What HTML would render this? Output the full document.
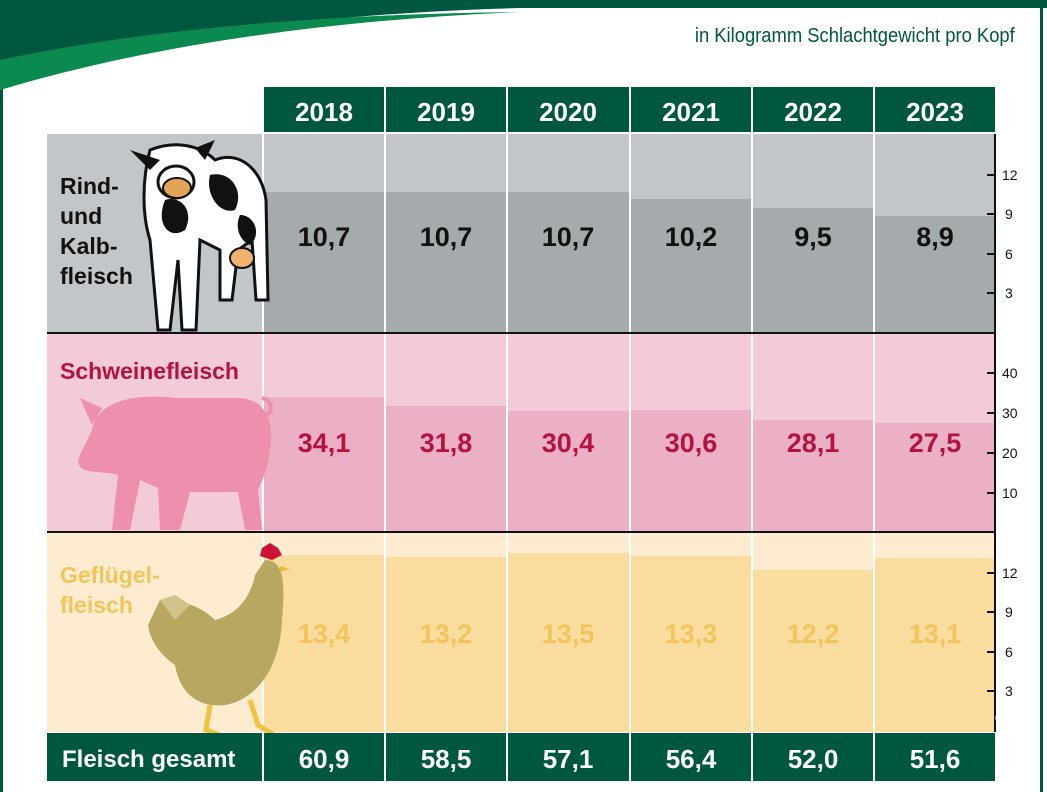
<!DOCTYPE html>
<html><head><meta charset="utf-8"><style>
html,body{margin:0;padding:0;background:#fff;}
svg{display:block;font-family:"Liberation Sans",sans-serif;}
</style></head><body>
<svg width="1047" height="792" viewBox="0 0 1047 792" xmlns="http://www.w3.org/2000/svg">
<rect width="1047" height="792" fill="#fff"/>
<!-- borders -->
<rect x="0" y="0" width="3" height="792" fill="#00573f"/>
<rect x="1040" y="0" width="3" height="792" fill="#00573f"/>
<!-- swoosh -->
<path d="M0 0 H1047 V8 H520 C300 14 120 40 0 90 Z" fill="#00573f"/>
<path d="M0 60 C150 28 330 14 520 12 C330 20 150 45 0 90 Z" fill="#0a8a4f"/>
<text x="1018" y="42" text-anchor="end" font-size="20" fill="#00573f" transform="scale(0.92 1) translate(85 0)">in Kilogramm Schlachtgewicht pro Kopf</text>
<!-- header -->
<g fill="#00573f">
<rect x="264" y="87" width="120" height="45"/><rect x="386" y="87" width="120" height="45"/>
<rect x="508" y="87" width="121" height="45"/><rect x="631" y="87" width="120" height="45"/>
<rect x="753" y="87" width="120" height="45"/><rect x="875" y="87" width="120" height="45"/>
</g>
<g fill="#fff" font-size="26" font-weight="bold" text-anchor="middle">
<text x="324" y="121">2018</text><text x="446" y="121">2019</text><text x="568" y="121">2020</text>
<text x="691" y="121">2021</text><text x="813" y="121">2022</text><text x="935" y="121">2023</text>
</g>
<!-- row backgrounds -->
<rect x="47" y="134" width="948" height="199" fill="#c3c6c8"/>
<rect x="47" y="333" width="948" height="199" fill="#f3cad8"/>
<rect x="47" y="532" width="948" height="200" fill="#fdecd0"/>
<!-- row1 bars -->
<g fill="#a5aaad">
<rect x="264" y="192" width="120" height="141"/><rect x="386" y="192" width="120" height="141"/>
<rect x="508" y="192" width="121" height="141"/><rect x="631" y="199" width="120" height="134"/>
<rect x="753" y="208" width="120" height="125"/><rect x="875" y="216" width="120" height="117"/>
</g>
<g fill="#ebb0c6">
<rect x="264" y="397" width="120" height="136"/><rect x="386" y="406" width="120" height="127"/>
<rect x="508" y="411" width="121" height="122"/><rect x="631" y="410" width="120" height="123"/>
<rect x="753" y="420" width="120" height="113"/><rect x="875" y="423" width="120" height="110"/>
</g>
<g fill="#f9dc9e">
<rect x="264" y="555" width="120" height="177"/><rect x="386" y="557" width="120" height="175"/>
<rect x="508" y="553" width="121" height="179"/><rect x="631" y="556" width="120" height="176"/>
<rect x="753" y="570" width="120" height="162"/><rect x="875" y="558" width="120" height="174"/>
</g>
<!-- column separators -->
<g fill="#fff">
<rect x="262" y="134" width="2" height="598"/><rect x="384" y="134" width="2" height="598"/>
<rect x="506" y="134" width="2" height="598"/><rect x="629" y="134" width="2" height="598"/>
<rect x="751" y="134" width="2" height="598"/><rect x="873" y="134" width="2" height="598"/>
</g>
<rect x="47" y="332" width="948" height="2" fill="#111"/>
<rect x="47" y="531" width="948" height="2" fill="#111"/>
<!-- axis -->
<rect x="994" y="134" width="2" height="598" fill="#111"/>
<g stroke="#111" stroke-width="2">
<line x1="987" y1="175" x2="995" y2="175"/><line x1="987" y1="214" x2="995" y2="214"/><line x1="987" y1="254" x2="995" y2="254"/><line x1="987" y1="293" x2="995" y2="293"/>
<line x1="987" y1="373" x2="995" y2="373"/><line x1="987" y1="413" x2="995" y2="413"/><line x1="987" y1="453" x2="995" y2="453"/><line x1="987" y1="493" x2="995" y2="493"/>
<line x1="987" y1="573" x2="995" y2="573"/><line x1="987" y1="612" x2="995" y2="612"/><line x1="987" y1="652" x2="995" y2="652"/><line x1="987" y1="691" x2="995" y2="691"/>
</g>
<g font-size="14" fill="#111">
<text x="1002" y="180">12</text><text x="1005" y="219">9</text><text x="1005" y="259">6</text><text x="1005" y="298">3</text>
<text x="1002" y="378">40</text><text x="1002" y="418">30</text><text x="1002" y="458">20</text><text x="1002" y="498">10</text>
<text x="1002" y="578">12</text><text x="1005" y="617">9</text><text x="1005" y="657">6</text><text x="1005" y="696">3</text>
</g>
<!-- values -->
<g font-size="27" font-weight="bold" text-anchor="middle" fill="#111">
<text x="324" y="246">10,7</text><text x="446" y="246">10,7</text><text x="568" y="246">10,7</text>
<text x="691" y="246">10,2</text><text x="813" y="246">9,5</text><text x="935" y="246">8,9</text>
</g>
<g font-size="27" font-weight="bold" text-anchor="middle" fill="#b5123f">
<text x="324" y="452">34,1</text><text x="446" y="452">31,8</text><text x="568" y="452">30,4</text>
<text x="691" y="452">30,6</text><text x="813" y="452">28,1</text><text x="935" y="452">27,5</text>
</g>
<g font-size="27" font-weight="bold" text-anchor="middle" fill="#f2c55a">
<text x="324" y="643">13,4</text><text x="446" y="643">13,2</text><text x="568" y="643">13,5</text>
<text x="691" y="643">13,3</text><text x="813" y="643">12,2</text><text x="935" y="643">13,1</text>
</g>
<text x="1030" y="722" text-anchor="end" font-size="12" fill="#fff">© BLE</text>
<!-- animals -->
<!-- cow -->
<g>
<path d="M150 150 C175 140 200 145 215 160 C240 150 262 170 266 200 L268 300 L256 300 L252 240 L238 250 L232 300 L220 300 L220 250 L200 240 L196 330 L182 330 L178 260 L170 330 L158 330 L150 240 C142 215 142 180 150 150 Z" fill="#fff" stroke="#111" stroke-width="3"/>
<path d="M165 200 C180 195 195 210 185 230 C170 240 155 225 165 200Z M210 175 C230 170 245 190 235 210 C220 215 205 195 210 175Z M240 215 C255 215 262 235 250 245 C238 240 235 225 240 215Z" fill="#111"/>
<ellipse cx="176" cy="182" rx="18" ry="16" fill="#fff" stroke="#111" stroke-width="3"/>
<ellipse cx="177" cy="188" rx="14" ry="10" fill="#e2a456" stroke="#111" stroke-width="2"/>
<path d="M130 150 L160 160 L150 170 Z M195 148 L215 140 L205 160Z" fill="#111"/>
<ellipse cx="242" cy="258" rx="12" ry="10" fill="#f0b26c" stroke="#111" stroke-width="2"/>
</g>
<text font-size="23" font-weight="bold" fill="#111"><tspan x="60" y="194">Rind-</tspan><tspan x="60" y="224">und</tspan><tspan x="60" y="254">Kalb-</tspan><tspan x="60" y="284">fleisch</tspan></text>
<!-- pig -->
<g fill="#ef8fae">
<path d="M95 420 C110 395 150 395 175 398 L240 398 C265 400 275 420 270 450 C268 470 262 480 258 490 L262 530 L245 530 L238 492 L190 492 L180 530 L160 530 L158 488 L140 480 L130 530 L112 530 L118 475 C100 470 80 475 78 462 C80 450 90 440 95 420Z"/>
<path d="M80 398 L102 408 L92 425Z"/>
<path d="M262 398 C272 400 274 412 266 415" fill="none" stroke="#ef8fae" stroke-width="4"/>
</g>
<text x="60" y="379" font-size="23" font-weight="bold" fill="#b5123f">Schweinefleisch</text>
<!-- chicken -->
<g>
<path d="M265 560 C285 560 285 585 282 620 C280 670 255 700 225 705 C200 708 180 695 175 665 C160 655 150 640 148 625 L160 600 C180 600 200 605 215 620 C235 615 250 600 255 575 Z" fill="#b8a761"/>
<path d="M160 600 L175 595 L190 605 L175 620 Z" fill="#d0c38c"/>
<path d="M262 548 L270 543 L278 548 L282 555 L272 560 L260 556Z" fill="#cc1236"/>
<path d="M280 566 L290 569 L280 572Z" fill="#f2b632"/>
<path d="M210 705 L206 730 L228 738 M250 700 L258 725 L285 742" stroke="#f2c140" stroke-width="5" fill="none"/>
</g>
<text font-size="23" font-weight="bold" fill="#f2c55a"><tspan x="60" y="583">Geflügel-</tspan><tspan x="60" y="613">fleisch</tspan></text>
<!-- bottom row -->
<g fill="#00573f">
<rect x="47" y="733" width="215" height="48"/>
<rect x="264" y="733" width="120" height="48"/><rect x="386" y="733" width="120" height="48"/>
<rect x="508" y="733" width="121" height="48"/><rect x="631" y="733" width="120" height="48"/>
<rect x="753" y="733" width="120" height="48"/><rect x="875" y="733" width="120" height="48"/>
</g>
<text x="62" y="767" font-size="24" font-weight="bold" fill="#fff">Fleisch gesamt</text>
<g fill="#fff" font-size="26" font-weight="bold" text-anchor="middle">
<text x="324" y="768">60,9</text><text x="446" y="768">58,5</text><text x="568" y="768">57,1</text>
<text x="691" y="768">56,4</text><text x="813" y="768">52,0</text><text x="935" y="768">51,6</text>
</g>
</svg>
</body></html>
